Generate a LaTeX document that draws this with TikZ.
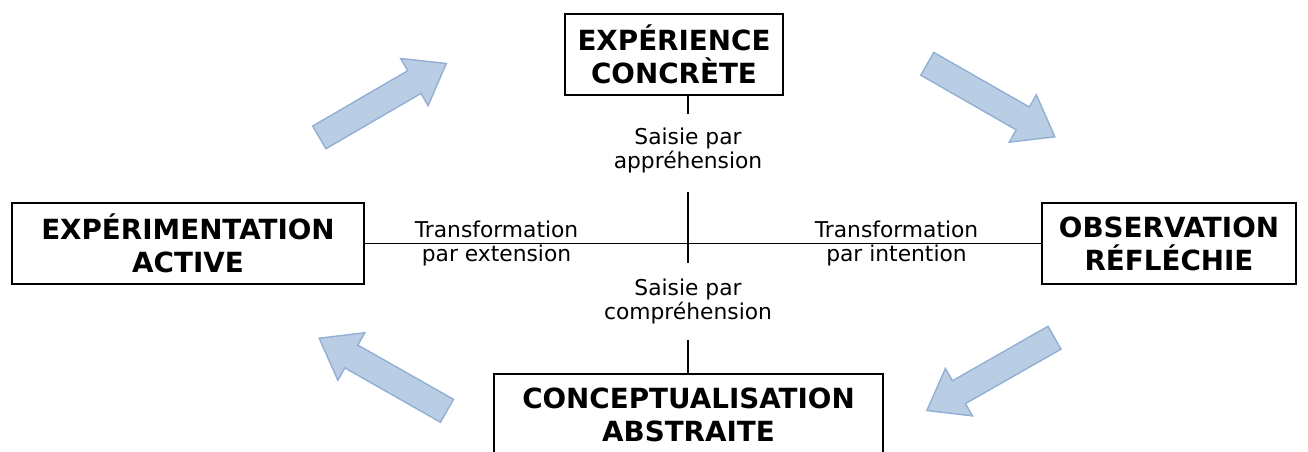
\documentclass[tikz,border=0pt]{standalone}
\usepackage{fontspec}
\setmainfont{DejaVu Sans}
\usetikzlibrary{calc,positioning}

\definecolor{bleu}{RGB}{185,205,229}
\definecolor{bleubord}{RGB}{146,175,212}

\tikzset{
  boite/.style={draw,line width=1.1pt,minimum height=1.62cm,inner sep=0pt,align=center,
    font=\fontsize{15.8}{18.7}\selectfont\bfseries},
  saisie/.style={inner sep=0pt,align=center,font=\fontsize{12.4}{14.2}\selectfont},
  axe/.style={line width=1pt},
  fleche/.style={fill=bleu,draw=bleubord,line width=0.8pt},
  pics/flechebloc/.style={code={
    \filldraw[fleche](0,-0.263)--(2.2,-0.263)--(2.2,-0.546)--(2.94,0)
      --(2.2,0.546)--(2.2,0.263)--(0,0.263)--cycle;}}
}

\begin{document}
\begin{tikzpicture}
\useasboundingbox (0,0) rectangle (26.16,-9.04);
\coordinate (croix) at (13.76,-4.866);
% les quatre etapes
\node[boite,minimum width=4.36cm](conc)at(13.48,-1.09){EXPÉRIENCE\\CONCRÈTE};
\node[boite,minimum width=7.04cm](exp)at(3.76,-4.87){EXPÉRIMENTATION\\ACTIVE};
\node[boite,minimum width=5.08cm](obs)at(23.38,-4.87){OBSERVATION\\RÉFLÉCHIE};
\node[boite,minimum width=7.78cm](abs)at(13.77,-8.29){CONCEPTUALISATION\\ABSTRAITE};
% axes
\coordinate(h1)at(13.76,-2.28);
\coordinate(h2)at(13.76,-3.84);
\coordinate(b2)at(13.76,-5.26);
\coordinate(b1)at(13.76,-6.8);
\draw[axe](conc.south-|h1)--(h1);
\draw[axe](h2)--(b2);
\draw[axe](b1)--(abs.north-|b1);
\draw[axe](exp.east)--(obs.west);
\node[saisie](appr)at(13.76,-3.01){Saisie par\\appréhension};
\node[saisie](compr)at(13.76,-6.03){Saisie par\\compréhension};
\node[saisie](ext)at(9.93,-4.87){Transformation\\par extension};
\node[saisie](int)at(17.93,-4.87){Transformation\\par intention};
% fleches du cycle
\pic[rotate=30.2] at (6.386,-2.748) {flechebloc};
\pic[rotate=-29.8] at (18.546,-1.276) {flechebloc};
\pic[rotate=209.7] at (21.09,-6.754) {flechebloc};
\pic[rotate=150.4] at (8.94,-8.216) {flechebloc};
\end{tikzpicture}
\end{document}
